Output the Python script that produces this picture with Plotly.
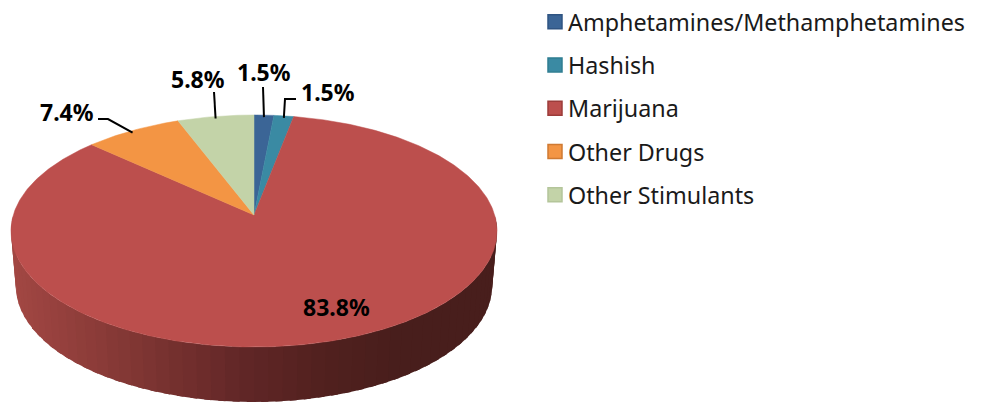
import numpy as np
import plotly.graph_objects as go

categories = ["Amphetamines/Methamphetamines", "Hashish", "Marijuana", "Other Drugs", "Other Stimulants"]
shares = [1.5, 1.5, 83.8, 7.4, 5.8]
slice_colors = ["#3b6596", "#3a8aa3", "#bc4f4d", "#f39544", "#c3d3a8"]
edge_colors = ["#2f5482", "#2f7d91", "#9c3c3a", "#cf7a32", "#b4c59a"]

# view of the tilted disc, in pixels of the 981x402 canvas
CX, CY = 254.0, 215.0
SX, SY, PERSP = 240.7, 113.8, 0.138
DEPTH, BASE_SCALE = 55.0, 0.98
LABEL_FONT = "Noto Sans"

# label position and leader elbow for each slice
label_xy = [(264, 72), (328, 92), (336, 307), (66.5, 112), (198, 79)]
leader_from = [(263, 87), (296, 99), None, (98, 119), (214, 92)]
leader_elbow = [None, (285, 99), None, (108, 119), None]


def rim(frac, depth=0.0, scale=1.0):
    t = 2 * np.pi * np.asarray(frac, dtype=float)
    X, Y = np.sin(t), np.cos(t)
    w = 1 + PERSP * Y
    return CX + scale * SX * X / w, CY + depth - SY * Y / w


def side_color(x):
    stops_x = [16, 130, 250, 330, 400, 492]
    r = np.interp(x, stops_x, [162, 130, 96, 80, 72, 72])
    g = np.interp(x, stops_x, [71, 55, 38, 32, 30, 30])
    b = np.interp(x, stops_x, [67, 52, 38, 30, 28, 28])
    return f"rgb({r:.0f},{g:.0f},{b:.0f})"


fig = go.Figure()
total = sum(shares)
cum = np.concatenate([[0], np.cumsum(shares)]) / total

# side wall: bands around the front half of the rim, each overpainting the tail of the one before
n_bands = 60
bands = np.linspace(0.25, 0.75, n_bands + 1)
step = bands[1] - bands[0]
for a, b in zip(bands[:-1], bands[1:]):
    fr = np.linspace(a, min(b + step / 2, 0.75), 5)
    x0, y0 = rim(fr)
    x1, y1 = rim(fr[::-1], DEPTH, BASE_SCALE)
    col = side_color((x0[:3].mean() + x1[-3:].mean()) / 2)
    fig.add_trace(go.Scatter(x=np.r_[x0, x1], y=np.r_[y0, y1], mode="lines", fill="toself",
                             fillcolor=col, line=dict(width=0),
                             hoverinfo="skip", showlegend=False))

# top face
for i, name in enumerate(categories):
    fr = np.linspace(cum[i], cum[i + 1], max(4, int(shares[i] * 6)))
    x, y = rim(fr)
    fig.add_trace(go.Scatter(x=np.r_[CX, x, CX], y=np.r_[CY, y, CY], mode="lines", fill="toself",
                             fillcolor=slice_colors[i], line=dict(color=slice_colors[i], width=0.5),
                             name=name, text=f"{name}: {shares[i]}%", hoverinfo="text", showlegend=False))

# leader lines
for i in range(len(categories)):
    if leader_from[i] is None:
        continue
    ex, ey = rim((cum[i] + cum[i + 1]) / 2)
    pts = [leader_from[i]] + ([leader_elbow[i]] if leader_elbow[i] else []) + [(float(ex), float(ey) + 2)]
    fig.add_trace(go.Scatter(x=[p[0] for p in pts], y=[p[1] for p in pts], mode="lines",
                             line=dict(color="#000000", width=2), hoverinfo="skip", showlegend=False))

# legend entries
for i, name in enumerate(categories):
    fig.add_trace(go.Scatter(x=[None], y=[None], mode="markers", name=name,
                             legendgroup=name,
                             marker=dict(symbol="square", size=14, color=slice_colors[i],
                                         line=dict(color=edge_colors[i], width=1.5))))

for i in range(len(categories)):
    fig.add_annotation(x=label_xy[i][0], y=label_xy[i][1], text=f"<b>{shares[i]}%</b>", showarrow=False,
                       font=dict(family=LABEL_FONT, size=23, color="#000000"))

fig.update_layout(
    width=981, height=402, margin=dict(l=0, r=0, t=0, b=0),
    paper_bgcolor="white", plot_bgcolor="white",
    xaxis=dict(range=[0, 981], visible=False, fixedrange=True),
    yaxis=dict(range=[402, 0], visible=False, fixedrange=True),
    legend=dict(x=528 / 981, y=1.0, xanchor="left", yanchor="top", traceorder="grouped",
                font=dict(family=LABEL_FONT, size=23.3, color="#1a1a1a"),
                tracegroupgap=10, bgcolor="rgba(0,0,0,0)", itemclick=False, itemdoubleclick=False),
)
post = """
document.body.style.margin='0';
document.documentElement.style.overflow='hidden';
function nudge(){document.querySelectorAll('.legendsymbols').forEach(function(g){g.setAttribute('transform','translate(7,0)');});}
nudge();
var gd=document.getElementById('{plot_id}');
if(gd&&gd.on){gd.on('plotly_afterplot',nudge);}
"""
fig.write_html("out.html", post_script=post, config=dict(displayModeBar=False))
